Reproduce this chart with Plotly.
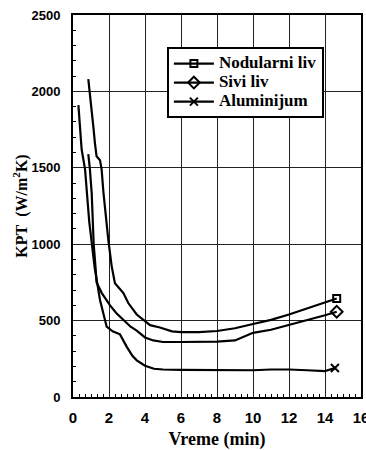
import plotly.graph_objects as go

# Data
nod_x = [0.85, 0.94, 1.04, 1.13, 1.22, 1.31, 1.5, 1.59, 1.69, 1.85, 1.96, 2.15, 2.33, 2.8, 3.07, 3.54, 4.0, 4.28, 4.83, 5.5, 6, 7, 8, 9, 10, 11, 12, 13, 14, 14.65]
nod_y = [2080, 1990, 1880, 1770, 1660, 1575, 1550, 1490, 1340, 1150, 1030, 855, 745, 680, 615, 540, 500, 470, 455, 430, 425, 425, 432, 450, 478, 505, 540, 580, 620, 645]

siv_x = [0.85, 0.94, 1.04, 1.1, 1.15, 1.25, 1.31, 1.6, 2.06, 2.4, 2.8, 3.2, 3.54, 4.0, 4.46, 5, 6, 7, 8, 9, 9.5, 10, 11, 12, 13, 14, 14.65]
siv_y = [1590, 1490, 1330, 1150, 1000, 850, 750, 680, 600, 550, 505, 460, 435, 390, 370, 360, 360, 362, 362, 370, 395, 420, 440, 470, 500, 535, 558]

alu_x = [0.3, 0.39, 0.48, 0.67, 0.76, 0.9, 1.05, 1.2, 1.5, 1.87, 2.2, 2.61, 2.98, 3.3, 3.54, 4.0, 4.5, 5, 6, 8, 10, 11, 12, 13, 14, 14.55]
alu_y = [1910, 1770, 1620, 1490, 1340, 1150, 1000, 850, 635, 460, 430, 410, 330, 270, 240, 205, 185, 180, 178, 175, 175, 180, 180, 175, 170, 190]

names = ["Nodularni liv", "Sivi liv", "Aluminijum"]
symbols = ["square-open", "diamond-open", "x-thin-open"]
msizes = [7, 9, 8]

series = [(nod_x, nod_y), (siv_x, siv_y), (alu_x, alu_y)]

fig = go.Figure()
for (xs, ys), nm, sym, ms in zip(series, names, symbols, msizes):
    fig.add_trace(go.Scatter(x=xs, y=ys, mode="lines", line=dict(color="black", width=2.2),
                             showlegend=False, hoverinfo="skip"))
    fig.add_trace(go.Scatter(x=[xs[-1]], y=[ys[-1]], mode="lines+markers",
                             name='<span style="font-size:17px"><b>' + nm + "</b></span>",
                             line=dict(color="black", width=2.2),
                             marker=dict(symbol=sym, size=ms, color="black",
                                         line=dict(color="black", width=2))))

serif = "Liberation Serif, Times New Roman, serif"
sans = "Liberation Sans, Arial, sans-serif"

fig.update_layout(
    width=366, height=450, autosize=False,
    margin=dict(l=73, r=5, t=15, b=53),
    paper_bgcolor="white", plot_bgcolor="white",
    legend=dict(x=0.326, y=0.916, xanchor="left", yanchor="top",
                bordercolor="black", borderwidth=2, bgcolor="white",
                font=dict(family=serif, size=12, color="black"),
                tracegroupgap=0, itemwidth=40),
    xaxis=dict(range=[0, 16], dtick=2, tick0=0, showgrid=True, gridcolor="#222", gridwidth=1.3,
               ticks="", showline=True, linecolor="black", linewidth=2, mirror=True,
               zeroline=False, ticklabelstandoff=6, automargin=False, ticklabeloverflow="allow",
               tickprefix="<b>", ticksuffix="</b>",
               tickfont=dict(family=sans, size=15, color="black"),
               minor=dict(dtick=1/3, tick0=0, ticks="inside", ticklen=3, tickcolor="black", showgrid=False),
               title=dict(text="<b>Vreme (min)</b>", standoff=8,
                          font=dict(family=serif, size=18, color="black"))),
    yaxis=dict(range=[0, 2500], dtick=500, tick0=0, showgrid=True, gridcolor="#222", gridwidth=1.3,
               ticks="", showline=True, linecolor="black", linewidth=2, mirror=True,
               zeroline=False, ticklabelstandoff=8, automargin=False, ticklabeloverflow="allow",
               tickprefix="<b>", ticksuffix="</b>",
               tickfont=dict(family=sans, size=13, color="black"),
               minor=dict(dtick=100, tick0=0, ticks="inside", ticklen=3, tickcolor="black", showgrid=False),
               title=dict(text="<b>KPT\u00a0 (W/m<sup>2</sup>K)</b>", standoff=0,
                          font=dict(family=serif, size=16, color="black"))),
)

fig.write_html("out.html", config={"responsive": False},
               post_script="document.documentElement.style.overflow='hidden';"
                           "document.body.style.margin='0';document.body.style.overflow='hidden';")
